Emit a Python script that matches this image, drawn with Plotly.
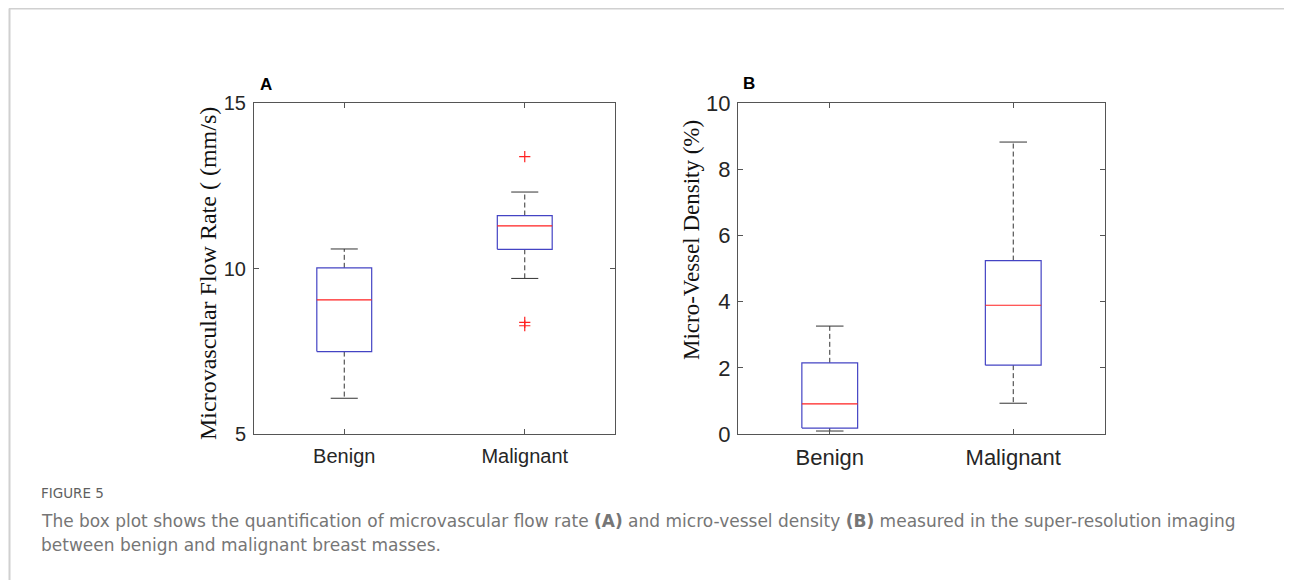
import plotly.graph_objects as go

# ---------------- data ----------------
categories = ["Benign", "Malignant"]

# Panel A: Microvascular flow rate (mm/s)
a_lower = [6.08, 9.70]
a_q1 = [7.49, 10.58]
a_median = [9.05, 11.29]
a_q3 = [10.02, 11.60]
a_upper = [10.59, 12.31]
a_outliers = [[], [13.38, 8.37, 8.27]]

# Panel B: Micro-vessel density (%)
b_lower = [0.09, 0.93]
b_q1 = [0.18, 2.08]
b_median = [0.91, 3.89]
b_q3 = [2.15, 5.24]
b_upper = [3.26, 8.82]
b_outliers = [[], []]

a_ticks = [5, 10, 15]
b_ticks = [0, 2, 4, 6, 8, 10]

# ---------------- style ----------------
BOX_HALF = 0.152
CAP_HALF = 0.075
BLUE = "#4444c4"
RED = "#ff2020"
WHISK = "#333333"
AXIS = "#555555"

fig = go.Figure()


def add_panel(xa, ya, lower, q1, med, q3, upper, outl):
    for i in range(len(categories)):
        x = i + 1
        for a, b in ((q3[i], upper[i]), (q1[i], lower[i])):
            fig.add_trace(go.Scatter(x=[x, x], y=[a, b], mode="lines",
                                     line=dict(color=WHISK, width=1, dash="5px,3px"),
                                     xaxis=xa, yaxis=ya, hoverinfo="skip"))
        for v in (upper[i], lower[i]):
            fig.add_trace(go.Scatter(x=[x - CAP_HALF, x + CAP_HALF], y=[v, v], mode="lines",
                                     line=dict(color=WHISK, width=1),
                                     xaxis=xa, yaxis=ya, hoverinfo="skip"))
        fig.add_trace(go.Scatter(x=[x - BOX_HALF, x + BOX_HALF, x + BOX_HALF, x - BOX_HALF, x - BOX_HALF],
                                 y=[q1[i], q1[i], q3[i], q3[i], q1[i]], mode="lines",
                                 line=dict(color=BLUE, width=1.2),
                                 xaxis=xa, yaxis=ya, hoverinfo="skip"))
        fig.add_trace(go.Scatter(x=[x - BOX_HALF, x + BOX_HALF], y=[med[i], med[i]], mode="lines",
                                 line=dict(color=RED, width=1.2),
                                 xaxis=xa, yaxis=ya, hoverinfo="skip"))
        if outl[i]:
            fig.add_trace(go.Scatter(x=[x] * len(outl[i]), y=outl[i], mode="markers",
                                     marker=dict(symbol="cross-thin", size=8, color=RED,
                                                 line=dict(color=RED, width=1.2)),
                                     xaxis=xa, yaxis=ya, hoverinfo="skip"))


add_panel("x", "y", a_lower, a_q1, a_median, a_q3, a_upper, a_outliers)
add_panel("x2", "y2", b_lower, b_q1, b_median, b_q3, b_upper, b_outliers)

# page body has an 8px margin: figure drawn 8px in from the window corner
OFF = 8
W, H = 1292 - OFF, 580 - OFF


def px(v):
    return (v - OFF) / W


def py(v):
    return 1 - (v - OFF) / H


axis_common = dict(showgrid=False, zeroline=False, showline=True, linecolor=AXIS, linewidth=1,
                   mirror="ticks", ticks="inside", ticklen=5, tickcolor=AXIS, automargin=False)

fig.update_layout(
    template="none",
    width=W, height=H, margin=dict(l=0, r=0, t=0, b=0, pad=0), autosize=False,
    paper_bgcolor="white", plot_bgcolor="white", showlegend=False,
    xaxis=dict(domain=[px(254), px(615)], range=[0.5, 2.5], tickvals=[1, 2], ticktext=categories,
               tickfont=dict(family="Liberation Sans, Arial", size=20, color="#262626"),
               ticklabelstandoff=4, anchor="y", **axis_common),
    yaxis=dict(domain=[py(434), py(103)], range=[5, 15], tickvals=a_ticks,
               tickfont=dict(family="Liberation Sans, Arial", size=20, color="#262626"),
               ticklabelstandoff=3, anchor="x", **axis_common),
    xaxis2=dict(domain=[px(738), px(1105)], range=[0.5, 2.5], tickvals=[1, 2], ticktext=categories,
                tickfont=dict(family="Liberation Sans, Arial", size=22, color="#262626"),
                ticklabelstandoff=4, anchor="y2", **axis_common),
    yaxis2=dict(domain=[py(434), py(103)], range=[0, 10], tickvals=b_ticks,
                tickfont=dict(family="Liberation Sans, Arial", size=22, color="#262626"),
                ticklabelstandoff=2, anchor="x2", **axis_common),
)

ann = []
ann.append(dict(text="Microvascular Flow Rate ( (mm/s)", x=px(208), y=py(274), xref="paper", yref="paper",
                textangle=-90, showarrow=False, xanchor="center", yanchor="middle",
                font=dict(family="Liberation Serif, Times New Roman", size=24, color="#111111")))
ann.append(dict(text="Micro-Vessel Density (%)", x=px(691), y=py(240), xref="paper", yref="paper",
                textangle=-90, showarrow=False, xanchor="center", yanchor="middle",
                font=dict(family="Liberation Serif, Times New Roman", size=23, color="#111111")))
ann.append(dict(text="<b>A</b>", x=px(258), y=py(84), xref="paper", yref="paper", showarrow=False,
                xanchor="left", yanchor="middle", font=dict(family="Liberation Sans, Arial", size=17, color="#000")))
ann.append(dict(text="<b>B</b>", x=px(741), y=py(83), xref="paper", yref="paper", showarrow=False,
                xanchor="left", yanchor="middle", font=dict(family="Liberation Sans, Arial", size=17, color="#000")))
ann.append(dict(text="FIGURE 5", x=px(39), y=py(493), xref="paper", yref="paper", showarrow=False,
                xanchor="left", yanchor="middle", font=dict(family="DejaVu Sans", size=13.5, color="#5f5f5f")))
ann.append(dict(text="The box plot shows the quantification of microvascular flow rate <b>(A)</b> and micro-vessel density "
                     "<b>(B)</b> measured in the super-resolution imaging",
                x=px(39), y=py(521), xref="paper", yref="paper", showarrow=False,
                xanchor="left", yanchor="middle", font=dict(family="DejaVu Sans", size=17, color="#767676")))
ann.append(dict(text="between benign and malignant breast masses.",
                x=px(39), y=py(545), xref="paper", yref="paper", showarrow=False,
                xanchor="left", yanchor="middle", font=dict(family="DejaVu Sans", size=17, color="#767676")))
fig.update_layout(annotations=ann)

fig.update_layout(shapes=[
    dict(type="line", xref="paper", yref="paper", x0=px(9), x1=1, y0=py(8.5), y1=py(8.5),
         line=dict(color="#d0d0d0", width=2)),
    dict(type="line", xref="paper", yref="paper", x0=px(9.5), x1=px(9.5), y0=0, y1=py(8.5),
         line=dict(color="#d0d0d0", width=2)),
])

fig.write_html("out.html")
